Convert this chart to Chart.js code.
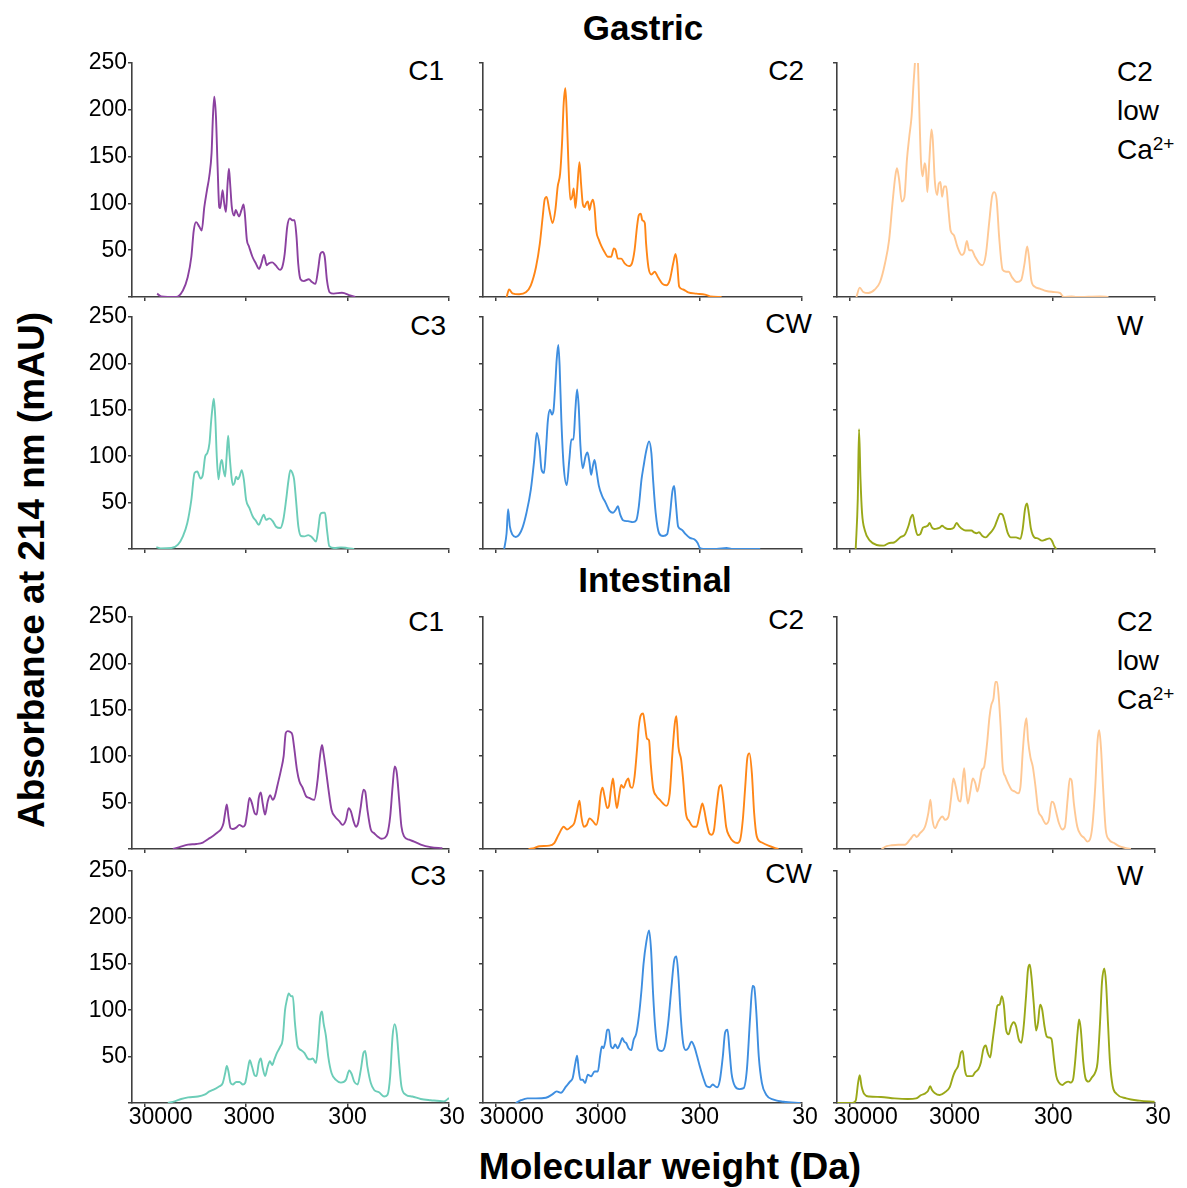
<!DOCTYPE html>
<html>
<head>
<meta charset="utf-8">
<script src="https://cdn.jsdelivr.net/npm/chart.js@4.4.1/dist/chart.umd.min.js"></script>
<style>
    body { margin: 0; background: #fff; width: 1187px; height: 1188px; position: relative; overflow: hidden;
           font-family: "Liberation Sans", Arial, sans-serif; }
    canvas { position: absolute; }
    .txt { position: absolute; color: #000; white-space: nowrap; transform: translate(-50%, -50%); }
    .title { font-weight: bold; font-size: 35px; }
    .lab { position: absolute; color: #000; font-size: 28px; line-height: 39px; white-space: nowrap; }
    .lab sup { font-size: 19px; vertical-align: 9px; line-height: 0; }
</style>
</head>
<body>

<div class="txt title" style="left:643px; top:28px;">Gastric</div>
<div class="txt title" style="left:655px; top:580px;">Intestinal</div>
<div class="txt title" style="left:670px; top:1167px; font-size:37px;">Molecular weight (Da)</div>
<div class="txt title" style="left:32px; top:570px; font-size:37px; transform:translate(-50%,-50%) rotate(-90deg);">Absorbance at 214 nm (mAU)</div>

<div class="lab" style="right:743px; top:51px;">C1</div>
<div class="lab" style="right:383px; top:51px;">C2</div>
<div class="lab" style="left:1117px; top:52px;">C2<br>low<br>Ca<sup>2+</sup></div>
<div class="lab" style="right:741px; top:306px;">C3</div>
<div class="lab" style="right:375px; top:304px;">CW</div>
<div class="lab" style="left:1117px; top:306px;">W</div>
<div class="lab" style="right:743px; top:602px;">C1</div>
<div class="lab" style="right:383px; top:600px;">C2</div>
<div class="lab" style="left:1117px; top:602px;">C2<br>low<br>Ca<sup>2+</sup></div>
<div class="lab" style="right:741px; top:856px;">C3</div>
<div class="lab" style="right:375px; top:854px;">CW</div>
<div class="lab" style="left:1117px; top:856px;">W</div>

<script>
// Axis ticks
const xTicks = [30000, 3000, 300, 30];
const xTickLabels = ['30000', '3000', '300', '30'];
const yTicks = [0, 50, 100, 150, 200, 250];

// Gastric digestion profiles (molecular weight in Da, absorbance in mAU)
const gastricC1Mw = [22600,20600,14700,12600,11300,10400,9850,9340,8670,8220,7750,7300,6920,6570,6370,6180,5950,5730,5520,5400,5120,4930,4740,4570,4430,4310,4150,3940,3790,3650,3520,3330,3180,3090,2950,2810,2600,2410,2240,2120,2000,1880,1790,1660,1540,1390,1320,1250,1180,1110,1050,1000,955,920,873,810,723,672,622,586,556,531,504,479,450,411,341,283,252];
const gastricC1Abs = [3.6,0.7,0,7,21,43,71,80,75,71,96,114,129,154,193,214,193,139,96,95,114,100,91,121,137,121,96,87,93,89,86,93,99,89,61,54,43,36,30,36,45,34,36,37,34,29,32,46,75,84,82,82,64,36,19,17,19,16,14,29,46,48,43,18,5,3.6,4.6,1.8,0];

const gastricC2Mw = [23500,22200,20600,17700,15200,13600,12100,11100,10400,9960,9530,8960,8320,7820,7420,7020,6730,6480,6240,6050,5840,5580,5360,5170,4980,4790,4540,4380,4220,4060,3910,3760,3620,3490,3360,3230,3110,2930,2760,2580,2390,2220,2090,2010,1910,1770,1640,1490,1390,1310,1240,1190,1140,1100,1040,1010,959,896,832,771,698,639,592,548,520,501,479,438,391,324,268,239,184];
const gastricC2Abs = [0,8,4,3,5,12.5,32,57,86,104,107,93,79,93,118,132,164,207,223,196,146,104,107,116,95,114,144,121,100,96,100,102,93,100,104,95,71,61,54,48,43,43,52,50,41,41,36,33,36,50,75,87.5,89,82,79,57,32,24,27,21,14,12.5,18,36,46,36,11,8,5,3.6,2.5,0.7,0];

const gastricC2LowCaMw = [25800,23900,22100,19700,17000,15100,13500,12300,11400,10700,10300,9800,9230,8690,8230,7800,7400,7070,6860,6620,6400,6210,5990,5760,5500,5340,5180,4950,4720,4580,4380,4150,4000,3850,3710,3540,3380,3230,3060,2840,2630,2380,2240,2120,2010,1900,1760,1600,1490,1380,1280,1200,1140,1080,1020,943,873,821,761,684,620,574,541,520,493,457,407,350,301,258,236,198,177,104,86];
const gastricC2LowCaAbs = [0,10,5.4,4.3,8,16,36,61,100,129,137.5,125,102,107,146,171,193,229,250,275,250,200,146,129,143,136,112,146,179,168,125,109,121,123,107,118,118,96,71,66,54,45,48,60,50,50,43,36,34,45,79,107,112,104,64,29,27,27,21,16,18,36,54,43,18,11,9,6.4,5.4,4.3,0,0.7,0,0.7,0];

const gastricC3Mw = [23000,20900,16400,14100,12600,11400,10400,9670,9100,8440,8010,7590,7270,6890,6620,6430,6240,6050,5840,5620,5360,5200,5010,4830,4670,4510,4380,4220,4060,3910,3760,3620,3490,3310,3160,3000,2780,2580,2390,2250,2130,2010,1910,1770,1640,1520,1380,1290,1210,1150,1100,1050,1010,967,916,863,800,732,678,614,584,558,529,501,479,454,405,349,300,258];
const gastricC3Abs = [2,0.7,1,4.7,13.6,28,53,82,83.5,76,80,100,103,114,139,153,162,143,100,75,92,96,85,78,100,122,103,82,69,71,78,75,78,85,75,53,44,35,30,26,31.5,37,31.5,33,30,24,22.6,31.5,53,73,85,82,75,53,24,14,13.6,15,13,8,21,37,39,39,21,3,1,1.8,1,0];

const gastricCWMw = [24800,23500,22700,21800,20600,19100,17700,16400,15000,13600,12600,11900,11200,10700,10100,9670,9250,8830,8440,8140,7820,7590,7320,7100,6830,6480,6050,5710,5450,5200,4980,4790,4620,4440,4220,3960,3790,3620,3490,3360,3230,3110,2930,2720,2520,2300,2130,2010,1910,1810,1700,1520,1360,1260,1190,1120,1070,1010,945,896,863,814,754,689,628,592,558,536,517,490,454,422,376,336,316,300,278,206,164,147,77];
const gastricCWAbs = [0,17,43,24,15.5,13,15.5,23,39,64,96,125,111,86,82,107,139,150,145,150,179,204,220,197,139,89,69,96,118,118,150,172,154,111,87,100,104,93,80,89,96,86,68,57,50,41,39,42,46,37,31,30,29,31,46,75,89,105,116,103,75,39,17,14,16,35,62,68,50,24,21,17,12,10,6.5,1,0,0,1,0,0];

const gastricWMw = [26200,25000,24300,23500,22700,21300,19000,16300,14000,12200,11000,9600,8560,7930,7520,7200,6870,6460,6080,5730,5430,5140,4920,4660,4410,4160,3920,3710,3490,3260,3070,2840,2670,2540,2350,2180,2020,1910,1800,1700,1610,1490,1380,1280,1190,1120,1060,996,945,896,844,782,697,631,599,568,543,522,496,459,426,388,360,326,309,295,280];
const gastricWAbs = [0,54,129,75,39,20,9,4.3,3.6,6.5,7,12.5,16,25,34,37,25,15,16,23,24,25,28,23,21.5,22,23,25,23,21.5,21.5,23,28,25,21.5,20,20,20,18,17,18,14,12.5,16,20,25,32,38,37,29,18,12.5,12.5,11,21.5,43,49,39,21.5,12.5,11.5,9,10,11.5,9,3.6,0];

// Intestinal digestion profiles
const intestinalC1Mw = [15800,13600,11200,9310,8010,7020,6380,5710,5290,5010,4830,4650,4480,4280,4060,3760,3490,3230,3070,2930,2780,2640,2480,2360,2250,2150,2060,1950,1840,1740,1640,1560,1470,1360,1280,1220,1170,1100,1050,1010,945,896,832,771,714,639,592,561,536,517,490,465,431,400,362,336,311,293,278,262,248,236,222,209,201,191,177,164,152,139,129,121,114,108,103,98.2,93,88.3,83.2,74.1,66.2,57,45.4,34.9];
const intestinalC1Abs = [0,2,4.7,5.4,7,11,14,18,21.5,28,39,48,35,22.6,21.5,23,26,24,26,39,55,50,39,37,55,61,49,37,51,58,53,57,69,85,100,125,127,126,123,110,85,73,66,57,55,53,74.5,100,112,103,85,66,42,35,30,26,31.5,44,40.5,30,24,28,46,64,62,42,21,17,13.6,11,12,17,35,67,89,82,53,24,13.6,10,8,4.7,2,1];

const intestinalC2Mw = [14300,12600,11200,8960,8010,7270,6480,6010,5490,5100,4830,4540,4350,4120,3850,3620,3360,3110,2930,2830,2700,2580,2430,2340,2230,2130,2040,1950,1860,1770,1680,1580,1510,1440,1380,1310,1240,1190,1140,1080,1040,990,945,910,863,800,741,689,639,592,558,529,510,487,458,438,412,382,349,324,300,284,272,258,243,230,218,206,194,186,177,166,154,141,129,121,114,108,103,98.2,93,88.3,83.2,74.1,63.9,54.9,51];
const intestinalC2Abs = [0,1,3,3.6,6.4,15.4,24,21,24,28,39,52,35,24,26,33,30,26,39,57,66,57,44,46,64,76,58,44,57,69,66,73,76,67,66,78,107,132,144,146,135,119,117,92,66,57,53,49,46.5,60,103,135,143,110,96,74.5,39,30,24,24,39,49,42,28,17,15.4,21,46,67,69,53,24,13.6,8,6.4,10,31.5,67,98,103,82,39,13.6,7,3.6,1,0];

const intestinalC2LowCaMw = [14600,13000,11600,10000,8590,7680,6950,6600,6110,5460,5060,4830,4610,4350,4030,3680,3460,3210,3020,2870,2720,2560,2440,2330,2250,2170,2070,1960,1850,1750,1670,1590,1510,1430,1340,1270,1220,1160,1110,1070,1030,985,942,886,834,773,717,664,630,597,572,550,530,503,477,448,422,391,352,331,311,295,280,264,244,230,217,206,198,188,174,161,149,138,131,124,116,110,106,102,97.2,91.5,84.7,75.5,67.5,57.9,51.8];
const intestinalC2LowCaAbs = [0,3,4,4.6,4.6,10,15.4,13,17,24,39,53,31.4,22.5,30,35,31.4,35,56,76,67,53,51,74,87,67,49,62,76,71,62,71,85,89,114,142,155,162,180,180,164,131,89,78,71,64,62,60,67,106,131,141,117,99,89,67,42,35,27,31.4,51,49,39,28,21,24,53,76,74,49,24,15.4,12,8,10,24,67,117,128,110,67,21,10,6.4,3,1,0];

const intestinalC3Mw = [17700,15200,13100,11200,8960,7710,6890,6140,5490,5100,4830,4650,4480,4280,4060,3760,3490,3230,3070,2890,2760,2620,2480,2370,2250,2150,2060,1950,1840,1750,1660,1580,1490,1380,1310,1240,1190,1140,1080,1040,990,931,863,800,741,698,662,614,584,558,536,517,490,465,431,391,349,311,289,274,258,239,222,209,201,191,177,164,147,131,121,114,108,103,98.2,93,88.3,80,68.9,57,45.4,33.6,30];
const intestinalC3Abs = [0,1.8,4.3,6,7,9,12.5,15,18,21.5,32,40,34,22,20,22.6,22.6,20,21.5,36,46,39,30,29,43,48,38,29,39,45,41,47,54,61,68,100,111,118,115,115,86,61,57,54,48,47,48,43,64.5,93,98.6,86,72,50,32,25,22,25,35,31.5,23,20,36,54,56,39,21.5,14,11.5,7,9,29,72,85,75,43,18,9,7,4.3,3,1.8,5.4];

const intestinalCWMw = [19100,17000,14700,12100,9670,8440,7590,6890,6140,5620,5290,4980,4790,4620,4440,4220,4000,3760,3490,3230,3000,2840,2740,2640,2520,2430,2340,2230,2130,2030,1920,1810,1730,1650,1580,1500,1410,1340,1260,1190,1120,1070,1010,945,903,863,819,771,714,662,614,570,536,510,487,462,438,412,391,362,341,319,300,278,258,239,225,213,203,191,179,170,161,154,147,136,123,112,104,96.6,91.5,88.3,84.3,79.5,74.1,67.3,57,45.4,31.1];
const intestinalCWAbs = [0,3,5,5,5.7,9,12.5,11,18,23,27,43,51,36,25,25,21.5,30.5,28.7,34,34,52,61,59,68,79,79,61,59,63,59,64.5,70,66,64.5,59,57,68,75,93,122,150,172,186,165,118,79,58,56,61,86,125,154,158,136,93,64.5,57,59,66,61,50,39,27,18,17,20,18,17,25,50,76,79,57,32,18,15,16,36,93,126,125,100,50,21.5,9,3.6,1.4,0];

const intestinalWMw = [39700,28300,26200,24800,23900,23000,21600,19300,14800,10900,8060,6670,5950,5420,5110,4850,4660,4390,3920,3490,3120,2890,2740,2580,2430,2330,2210,2100,1970,1870,1760,1630,1540,1460,1380,1320,1250,1190,1120,1060,1010,959,916,875,824,777,735,697,656,617,585,555,531,510,492,467,442,423,404,386,366,349,331,312,295,280,264,244,227,213,202,191,183,173,167,161,152,144,135,125,116,110,104,99.6,94.5,90.9,87,83.1,78.3,71.4,57.6,42.6,30.3];
const intestinalWAbs = [0,0,2.5,22,30,18.6,9.7,7,6.5,5,4.3,5,8.6,10.4,13,18,14,10.8,8.6,11.5,17,29,35,40,54,56,35,29,29,29,33,36.6,44,58,62,54,49,65,87,105,106,115,105,80,74,83,87,83,69,65,83,115,144,149,137,108,78,87,106,101,83,72,70.6,69,47,29,22,19.4,22,23,22,26,44,76,90,80,44,26,23,27.6,33,44,87,130,145,130,87,44,18.6,9.7,5,2.5,1.4];

// Colours per sample
const COL_C1 = '#8b41a0';
const COL_C2 = '#ff8616';
const COL_C2LOW = '#ffc894';
const COL_C3 = '#6ccdb8';
const COL_CW = '#3e8ee0';
const COL_W = '#9aa818';
const AXIS = '#404040';

// Panel grid (chart area edges in page pixels)
const cols = [{ L: 132, R: 449 }, { L: 483, R: 802 }, { L: 837, R: 1155 }];
const rows = [{ T: 63, B: 297 }, { T: 317, B: 549 }, { T: 617, B: 849 }, { T: 871, B: 1103 }];
const PAD_L = 62, PAD_R = 22, PAD_T = 20, PAD_B = 40;

const panels = [
    { mw: gastricC1Mw, abs: gastricC1Abs, color: COL_C1, row: 0, col: 0 },
    { mw: gastricC2Mw, abs: gastricC2Abs, color: COL_C2, row: 0, col: 1 },
    { mw: gastricC2LowCaMw, abs: gastricC2LowCaAbs, color: COL_C2LOW, row: 0, col: 2 },
    { mw: gastricC3Mw, abs: gastricC3Abs, color: COL_C3, row: 1, col: 0 },
    { mw: gastricCWMw, abs: gastricCWAbs, color: COL_CW, row: 1, col: 1 },
    { mw: gastricWMw, abs: gastricWAbs, color: COL_W, row: 1, col: 2 },
    { mw: intestinalC1Mw, abs: intestinalC1Abs, color: COL_C1, row: 2, col: 0 },
    { mw: intestinalC2Mw, abs: intestinalC2Abs, color: COL_C2, row: 2, col: 1 },
    { mw: intestinalC2LowCaMw, abs: intestinalC2LowCaAbs, color: COL_C2LOW, row: 2, col: 2 },
    { mw: intestinalC3Mw, abs: intestinalC3Abs, color: COL_C3, row: 3, col: 0 },
    { mw: intestinalCWMw, abs: intestinalCWAbs, color: COL_CW, row: 3, col: 1 },
    { mw: intestinalWMw, abs: intestinalWAbs, color: COL_W, row: 3, col: 2 }
];

// x tick labels drawn under the bottom row (30000 sits a bit right of its tick, like the original)
const xLabelShift = [16, 3, 0, 3];
const xLabelsPlugin = {
    id: 'xLabels',
    afterDraw(chart, args, opts) {
        if (!opts.show) return;
        const sx = chart.scales.x;
        const ctx = chart.ctx;
        ctx.save();
        ctx.font = '23px "Liberation Sans", Arial, sans-serif';
        ctx.fillStyle = '#000';
        ctx.textAlign = 'center';
        ctx.textBaseline = 'middle';
        xTicks.forEach((v, i) => {
            ctx.fillText(xTickLabels[i], sx.getPixelForValue(v) + xLabelShift[i], chart.chartArea.bottom + 15);
        });
        ctx.restore();
    }
};

panels.forEach(p => {
    const c = cols[p.col], r = rows[p.row];
    const canvas = document.createElement('canvas');
    canvas.width = (c.R - c.L) + PAD_L + PAD_R;
    canvas.height = (r.B - r.T) + PAD_T + PAD_B;
    canvas.style.left = (c.L - PAD_L) + 'px';
    canvas.style.top = (r.T - PAD_T) + 'px';
    document.body.appendChild(canvas);

    const showY = p.col === 0;
    const showX = p.row === 3;

    new Chart(canvas.getContext('2d'), {
        type: 'line',
        data: {
            datasets: [{
                data: p.mw.map((m, i) => ({ x: m, y: p.abs[i] })),
                borderColor: p.color,
                borderWidth: 1.9,
                pointRadius: 0,
                fill: false,
                cubicInterpolationMode: 'monotone'
            }]
        },
        options: {
            responsive: false,
            animation: false,
            events: [],
            layout: { padding: { top: PAD_T, right: PAD_R, left: 0, bottom: 0 } },
            plugins: {
                legend: { display: false },
                tooltip: { enabled: false },
                xLabels: { show: showX }
            },
            scales: {
                x: {
                    type: 'logarithmic',
                    reverse: true,
                    min: 30,
                    max: 40000,
                    afterBuildTicks: s => { s.ticks = xTicks.map(v => ({ value: v })); },
                    afterFit: s => { s.height = PAD_B; s.paddingLeft = 0; s.paddingRight = 0; },
                    grid: { drawOnChartArea: false, drawTicks: true, tickLength: 4, color: AXIS, lineWidth: 1.5 },
                    border: { color: AXIS, width: 1.6 },
                    ticks: { callback: () => '' }
                },
                y: {
                    min: 0,
                    max: 250,
                    afterBuildTicks: s => { s.ticks = yTicks.map(v => ({ value: v })); },
                    afterFit: s => { s.width = PAD_L; s.paddingTop = 0; s.paddingBottom = 0; },
                    grid: { drawOnChartArea: false, drawTicks: true, tickLength: 4, color: AXIS, lineWidth: 1.5 },
                    border: { color: AXIS, width: 1.6 },
                    ticks: {
                        padding: 1,
                        color: '#000',
                        font: { family: '"Liberation Sans", Arial, sans-serif', size: 23 },
                        callback: v => (showY && v !== 0) ? String(v) : ''
                    }
                }
            }
        },
        plugins: [xLabelsPlugin]
    });
});
</script>
</body>
</html>
